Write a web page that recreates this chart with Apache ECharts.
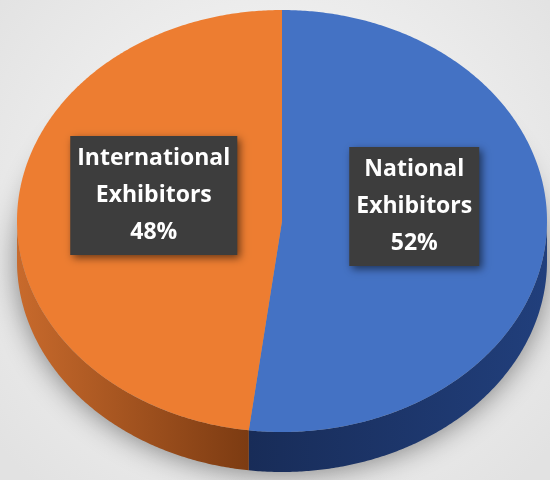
<!DOCTYPE html>
<html><head><meta charset="utf-8">
<script src="https://cdn.jsdelivr.net/npm/echarts@6/dist/echarts.min.js"></script>
<style>html,body{margin:0;padding:0;background:#eeeeee;} #chart{width:550px;height:480px;}</style>
</head><body><div id="chart"></div>
<script>
const categories = ['National Exhibitors', 'International Exhibitors'];
const values = [52, 48];

const topColors = ['#4472C4', '#ED7D31'];
const sideColors = [['#182c58', '#213f7c'], ['#c86a2c', '#7c3b12']];
const labelShift = [[0, -21], [4, -19]];

const total = values.reduce((a, b) => a + b, 0);
const starts = [];
let acc = 0;
values.forEach(v => { starts.push(acc); acc += v; });

const CX = 282, CY = 221, RX = 265, RY = 211, DEPTH = 40;
function pt(phiDeg, dy) {
  const p = phiDeg * Math.PI / 180;
  return [CX + RX * Math.cos(p), CY - RY * Math.sin(p) + (dy || 0)];
}
function arc(from, to, dy) {
  const pts = [];
  const n = Math.max(2, Math.ceil(Math.abs(to - from) / 0.5));
  for (let k = 0; k <= n; k++) pts.push(pt(from + (to - from) * k / n, dy));
  return pts;
}

function renderItem(params, api) {
  const i = params.dataIndex;
  const v = api.value(1);
  const a0 = 90 - starts[i] / total * 360;
  const a1 = a0 - v / total * 360;
  const children = [];
  if (i === 0) {
    children.push({
      type: 'polygon', z2: -5,
      shape: { points: arc(0, 360, DEPTH - 4) },
      style: { fill: '#9a9a9a', shadowBlur: 28, shadowColor: 'rgba(0,0,0,0.45)', shadowOffsetX: 0, shadowOffsetY: 6 }
    });
  }
  // visible side walls (lower half of the ellipse)
  [[-180, 0], [-540, -360]].forEach(w => {
    const hi = Math.min(a0, w[1]);
    const lo = Math.max(a1, w[0]);
    if (hi > lo) {
      const top = arc(hi, lo, 0);
      const bot = arc(lo, hi, DEPTH);
      children.push({
        type: 'polygon', z2: 1,
        shape: { points: top.concat(bot) },
        style: {
          fill: { type: 'linear', x: 0, y: 0, x2: 1, y2: 0,
            colorStops: [{ offset: 0, color: sideColors[i][0] }, { offset: 1, color: sideColors[i][1] }] }
        }
      });
    }
  });
  // top face
  children.push({
    type: 'polygon', z2: 10,
    shape: { points: [[CX, CY]].concat(arc(a0, a1, 0)) },
    style: { fill: topColors[i] }
  });
  // label
  const mid = (a0 + a1) / 2;
  const lp = pt(mid, 0);
  children.push({
    type: 'text', z2: 20,
    x: CX + (lp[0] - CX) * 0.5 + labelShift[i][0],
    y: CY + (lp[1] - CY) * 0.5 + labelShift[i][1],
    style: {
      text: categories[i].replace(' ', '\n') + '\n' + v + '%',
      fill: '#ffffff',
      font: 'bold 23px "Open Sans"',
      align: 'center', verticalAlign: 'middle',
      lineHeight: 37,
      backgroundColor: '#3d3d3d',
      padding: [5, 7, 3, 7],
      shadowBlur: 8, shadowColor: 'rgba(0,0,0,0.55)', shadowOffsetX: 3, shadowOffsetY: 3
    }
  });
  return { type: 'group', children: children };
}

const chart = echarts.init(document.getElementById('chart'));
chart.setOption({
  backgroundColor: {
    type: 'radial', x: 0.5, y: 0.45, r: 0.75,
    colorStops: [{ offset: 0, color: '#fbfbfb' }, { offset: 1, color: '#e2e2e2' }]
  },
  animation: false,
  series: [{
    type: 'custom',
    coordinateSystem: 'none',
    renderItem: renderItem,
    data: values.map((v, i) => ({ name: categories[i], value: [i, v] }))
  }]
});
</script>
</body></html>
